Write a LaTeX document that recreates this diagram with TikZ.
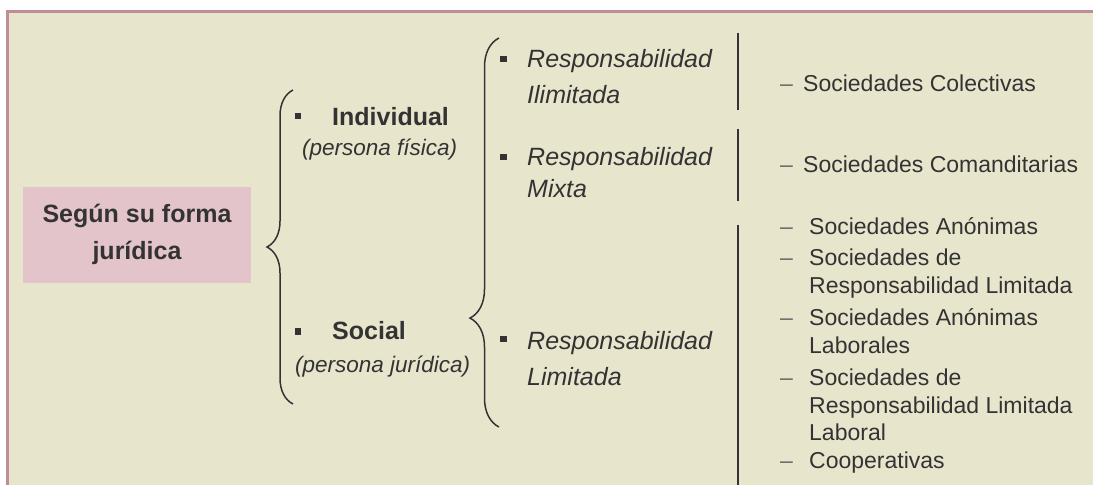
\documentclass[tikz,border=0pt]{standalone}
\usepackage{fontspec}
\setmainfont{Liberation Sans}
\usetikzlibrary{decorations.pathreplacing}
\definecolor{framecol}{RGB}{192,140,152}
\definecolor{bgcol}{RGB}{232,229,205}
\definecolor{boxcol}{RGB}{228,196,203}
\definecolor{txtcol}{RGB}{51,51,51}
\definecolor{dashcol}{RGB}{105,105,105}
\tikzstyle{title} = [rectangle, fill=boxcol, minimum width=228pt, minimum height=96pt, align=center, text=txtcol, font=\fontsize{25}{37}\selectfont\bfseries]
\tikzstyle{kind} = [anchor=base west, inner sep=0pt, text=txtcol, font=\fontsize{25}{30}\selectfont\bfseries]
\tikzstyle{note} = [anchor=base west, inner sep=0pt, text=txtcol, font=\fontsize{22.5}{27}\selectfont\itshape]
\tikzstyle{resp} = [anchor=base west, inner sep=0pt, text=txtcol, font=\fontsize{25}{30}\selectfont\itshape]
\tikzstyle{soc} = [anchor=base west, inner sep=0pt, text=txtcol, font=\fontsize{23}{29}\selectfont]
\tikzstyle{dashmark} = [anchor=base west, inner sep=0pt, text=dashcol, font=\fontsize{23}{29}\selectfont]
\tikzstyle{bullet} = [rectangle, fill=txtcol, minimum size=6.5pt, inner sep=0pt]
\tikzstyle{curly} = [line width=1.5pt, draw=txtcol, decorate]
\tikzstyle{sepline} = [line width=1.5pt, draw=txtcol]

\begin{document}
\begin{tikzpicture}[x=1pt, y=-1pt]
  \useasboundingbox (0,0) rectangle (1093,485);
  \fill[bgcol] (8.5,12.5) rectangle (1093,485);
  \draw[line width=3pt, framecol] (7,485) |- (1093,11);

  \node (seg) [title] at (137,234.5) {Según su forma\\jurídica};

  % first level
  \node (bind) [bullet] at (298,116) {};
  \node (ind) [kind] at (332,125) {Individual};
  \node (indp) [note] at (302,155) {(persona física)};
  \node (bsoc) [bullet] at (298,331.5) {};
  \node (socl) [kind] at (332,339) {Social};
  \node (socp) [note] at (295,372) {(persona jurídica)};

  % second level
  \node (bril) [bullet] at (503.5,59) {};
  \node (ril) [resp] at (527,67) {Responsabilidad};
  \node (ril2) [resp] at (527,103) {Ilimitada};
  \node (brmx) [bullet] at (503.5,157) {};
  \node (rmx) [resp] at (527,165) {Responsabilidad};
  \node (rmx2) [resp] at (527,197) {Mixta};
  \node (brli) [bullet] at (503.5,339) {};
  \node (rli) [resp] at (527,349) {Responsabilidad};
  \node (rli2) [resp] at (527,385) {Limitada};

  % third level
  \node (d1) [dashmark] at (780,91) {–};
  \node (col) [soc] at (803,91) {Sociedades Colectivas};
  \node (d2) [dashmark] at (780,172) {–};
  \node (com) [soc] at (803,172) {Sociedades Comanditarias};
  \node (d3) [dashmark] at (780,234) {–};
  \node (sa) [soc] at (809,234) {Sociedades Anónimas};
  \node (d4) [dashmark] at (780,265) {–};
  \node (srl) [soc] at (809,265) {Sociedades de};
  \node (srl2) [soc] at (809,293) {Responsabilidad Limitada};
  \node (d5) [dashmark] at (780,325) {–};
  \node (sal) [soc] at (809,325) {Sociedades Anónimas};
  \node (sal2) [soc] at (809,353) {Laborales};
  \node (d6) [dashmark] at (780,385) {–};
  \node (srll) [soc] at (809,385) {Sociedades de};
  \node (srll2) [soc] at (809,413) {Responsabilidad Limitada};
  \node (srll3) [soc] at (809,440) {Laboral};
  \node (d7) [dashmark] at (780,468) {–};
  \node (coop) [soc] at (809,468) {Cooperativas};

  % braces
  \coordinate (b1low) at (293,404);
  \coordinate (b1up) at (293,90);
  \coordinate (b2low) at (499,427);
  \coordinate (b2up) at (499,38);
  \draw [curly, decoration={brace, amplitude=26pt, aspect=0.5}] (b1low) -- (b1up);
  \draw [curly, decoration={brace, amplitude=29pt, aspect=0.28}] (b2low) -- (b2up);

  % separators
  \coordinate (s1a) at (738,33);
  \coordinate (s1b) at (738,110);
  \coordinate (s2a) at (738,129);
  \coordinate (s2b) at (738,201);
  \coordinate (s3a) at (738,225);
  \coordinate (s3b) at (738,485);
  \draw [sepline] (s1a) -- (s1b);
  \draw [sepline] (s2a) -- (s2b);
  \draw [sepline] (s3a) -- (s3b);

\end{tikzpicture}
\end{document}
